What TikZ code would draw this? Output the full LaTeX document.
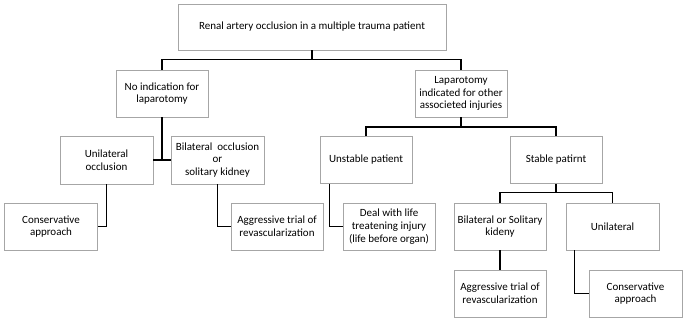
\documentclass[tikz,border=0pt]{standalone}
\usepackage{fontspec}
\setmainfont{Carlito}

\begin{document}
\begin{tikzpicture}[x=1pt, y=1pt,
    box/.style={draw=gray!70, line width=0.7pt, fill=white, align=center,
        minimum width=92pt, minimum height=47pt, inner sep=2pt,
        font=\fontsize{11}{12.7}\selectfont},
    link/.style={draw=black, line width=1.4pt}]
    \useasboundingbox (0,0) rectangle (684,-321);
    % top level
    \node[box, minimum width=268pt, minimum height=46pt] (top) at (312,-27) {Renal artery occlusion in a multiple trauma patient};
    \node[box] (noind) at (162,-93.5) {No indication for\\laparotomy};
    \node[box] (lapar) at (461,-93.5) {Laparotomy\\indicated for other\\associeted injuries};
    % left branch
    \node[box, minimum width=93pt, minimum height=48pt] (unil) at (106.5,-160) {Unilateral\\occlusion};
    \node[box, minimum width=93pt, minimum height=48pt] (bilat) at (217.5,-160) {Bilateral\ \ occlusion\\or\\solitary kidney};
    \node[box, minimum width=93pt] (consL) at (51,-226.5) {Conservative\\approach};
    \node[box] (aggrL) at (277,-226.5) {Aggressive trial of\\revascularization};
    % right branch
    \node[box] (unstable) at (366,-160) {Unstable patient};
    \node[box] (stable) at (556,-160) {Stable patirnt};
    \node[box] (deal) at (389,-226.5) {Deal with life\\treatening injury\\(life before organ)};
    \node[box] (bisol) at (500,-226.5) {Bilateral or Solitary\\kideny};
    \node[box, minimum width=93pt] (unilR) at (612.5,-226.5) {Unilateral};
    \node[box] (aggrR) at (500,-293.5) {Aggressive trial of\\revascularization};
    \node[box, minimum width=93pt] (consR) at (635.5,-293.5) {Conservative\\approach};

    % connectors
    \draw[link] (noind.north) -- ++(0,10) coordinate (bar1) -| (lapar.north);
    \draw[link] (top.south) -- (top.south |- bar1);
    \draw[link] (unil.east) -- (bilat.west);
    \draw[link] (noind.south) -- (noind.south |- unil.east);
    \draw[link] (unil.south) |- (consL.east);
    \draw[link] (bilat.south) |- (aggrL.west);
    \draw[link] (unstable.north) -- ++(0,9) coordinate (bar2) -| (stable.north);
    \draw[link] (lapar.south) -- (lapar.south |- bar2);
    \draw[link] ([xshift=10pt]unstable.south west) |- (deal.west);
    \draw[link] (bisol.north) -- ++(0,10) coordinate (bar3) -| (unilR.north);
    \draw[link] (stable.south) -- (stable.south |- bar3);
    \draw[link] (bisol.south) -- (aggrR.north);
    \draw[link] ([xshift=9pt]unilR.south west) |- (consR.west);
\end{tikzpicture}
\end{document}
